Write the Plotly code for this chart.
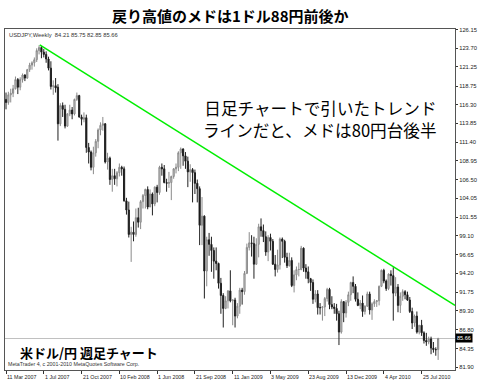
import pandas as pd
import plotly.graph_objects as go

# Weekly USD/JPY bars, week of 11 Mar 2007 .. week of 12 Sep 2010
start_week = "2007-03-11"
opens = [117.0,116.6,117.6,117.8,118.4,119.6,118.6,119.6,120.2,119.8,120.9,121.5,121.8,122.2,123.4,123.8,123.2,122.9,122.3,121.1,
         118.7,118.8,118.6,113.8,116.2,115.7,113.5,115.1,115.6,115.1,117.0,117.5,114.7,114.4,114.6,110.7,110.1,108.1,110.0,111.5,
         113.0,113.6,113.8,108.8,109.3,106.5,107.0,106.6,107.4,108.1,107.9,103.7,102.5,99.3,99.6,99.3,101.5,100.9,103.6,104.4,
         105.2,102.9,104.6,103.3,105.5,104.8,108.1,107.9,106.1,106.0,106.1,106.9,107.9,108.1,110.0,110.5,109.6,108.9,107.5,107.8,
         107.4,106.0,105.3,100.5,101.7,94.5,98.6,98.0,97.2,95.8,95.5,92.9,91.3,89.6,90.6,91.9,90.6,90.7,88.6,89.9,
         92.0,91.8,94.2,97.6,98.2,98.1,95.4,98.0,100.3,99.8,99.0,97.0,98.9,98.4,95.4,94.7,95.3,98.7,98.4,96.3,
         95.2,95.9,92.6,94.0,94.7,94.7,97.5,94.9,94.4,93.5,93.0,90.8,91.5,89.7,89.7,89.8,90.9,92.1,90.1,89.8,
         89.6,88.9,86.5,90.5,89.0,90.4,91.4,93.0,92.5,90.8,90.0,90.3,89.2,89.9,91.5,89.4,90.2,90.5,90.6,92.5,
         94.6,93.2,92.2,94.1,93.9,91.6,92.4,90.0,91.2,91.8,91.4,90.7,89.2,87.7,88.6,86.5,87.4,86.4,85.4,85.2,
         85.6,84.4,84.2,84.21]
highs = [117.9,118.0,118.4,118.9,120.0,119.8,119.9,120.4,120.3,121.0,121.8,122.0,122.5,123.7,124.1,124.0,123.6,123.3,122.6,122.0,
         119.5,119.8,119.0,116.5,116.6,116.3,115.2,116.3,116.0,117.1,117.9,117.6,115.0,115.3,115.0,111.3,110.3,110.8,111.8,113.2,
         114.0,114.7,113.9,110.0,109.5,107.9,107.9,107.6,108.6,108.3,108.2,104.1,103.6,100.3,101.0,102.7,102.8,103.8,104.6,105.3,
         105.6,105.2,104.8,105.6,105.8,108.3,108.6,108.4,106.6,107.5,107.0,108.0,108.6,110.2,110.7,110.6,110.1,109.5,108.5,108.0,
         107.8,106.5,105.6,104.2,101.8,99.0,99.5,99.0,97.6,97.6,95.6,93.6,91.6,91.2,92.0,94.6,90.8,91.0,90.3,92.3,
         92.3,94.5,98.1,99.6,99.2,99.0,98.8,100.7,101.4,100.6,99.7,99.2,99.4,98.7,96.6,97.3,98.9,98.9,98.6,96.9,
         96.9,96.3,94.6,95.1,95.6,97.8,97.6,95.4,95.1,93.6,93.4,92.0,92.0,90.3,89.9,91.1,92.3,92.3,91.2,90.3,
         90.2,89.3,90.8,90.5,90.7,91.8,93.1,93.8,92.8,91.7,90.7,91.3,90.0,91.8,91.8,90.4,90.8,90.7,92.6,94.7,
         94.8,93.4,94.2,94.6,95.0,93.7,92.8,91.7,92.1,92.0,91.8,91.1,89.7,88.8,89.2,87.4,88.1,86.6,86.4,85.9,
         85.9,85.2,84.5,85.75]
lows = [115.7,116.3,116.6,117.3,118.3,117.7,118.2,119.2,119.4,119.7,120.6,120.9,121.3,121.9,122.9,122.4,122.5,121.8,120.8,118.3,
        117.6,117.9,111.6,113.5,114.7,113.2,113.4,114.8,114.4,114.9,116.8,114.6,113.6,114.0,110.0,108.6,107.7,107.2,109.5,110.6,
        112.3,112.9,108.6,107.8,105.8,104.9,105.8,105.6,106.9,107.0,103.6,101.9,98.9,95.7,98.4,99.0,100.2,100.0,102.7,102.7,
        102.6,102.9,101.8,103.0,103.5,104.5,107.0,106.0,104.9,105.4,103.8,106.6,107.3,107.6,107.9,108.3,107.9,105.5,106.2,103.5,
        104.6,103.5,97.9,97.9,90.9,92.5,96.5,94.4,93.5,94.6,92.2,88.9,87.1,89.5,89.6,90.4,87.4,87.1,88.3,88.9,
        90.1,91.4,94.1,97.2,96.4,93.5,95.3,96.3,99.0,98.3,96.5,95.8,97.2,95.3,93.8,94.3,94.7,96.2,95.6,94.9,
        95.1,92.4,91.7,93.3,93.8,94.6,94.4,93.5,92.9,91.9,90.2,90.4,88.8,88.8,88.0,88.6,90.5,89.5,89.5,88.9,
        88.0,84.8,86.3,87.8,88.4,89.9,90.6,91.6,90.5,89.9,89.5,88.5,88.8,89.8,88.8,88.1,89.8,89.8,90.0,92.4,
        92.9,91.9,92.0,92.6,88.0,91.2,89.1,89.0,90.6,90.8,90.6,89.0,86.9,87.2,86.3,86.2,86.0,85.0,84.7,84.9,
        83.6,83.8,83.4,82.85]
closes = [116.6,117.6,117.8,118.4,119.6,118.6,119.6,120.2,119.8,120.9,121.5,121.8,122.2,123.4,123.8,123.2,122.9,122.3,121.1,118.7,
          118.8,118.5,113.8,116.2,115.7,113.5,115.1,115.6,115.1,117.0,117.5,114.7,114.4,114.6,110.7,110.1,108.1,110.0,111.5,113.0,
          113.6,113.8,108.8,109.3,106.5,107.0,106.6,107.4,108.1,107.9,103.7,102.5,99.3,99.6,99.3,101.5,100.9,103.6,104.4,105.2,
          102.9,104.6,103.3,105.5,104.8,108.1,107.9,106.1,106.0,106.1,106.9,107.9,108.1,110.0,110.5,109.6,108.9,107.5,107.8,107.4,
          106.0,105.3,100.5,101.7,94.5,98.6,98.0,97.2,95.8,95.5,92.9,91.3,89.6,90.6,91.9,90.6,90.7,88.6,89.9,92.0,
          91.8,94.2,97.6,98.2,98.1,95.4,98.0,100.3,99.8,99.0,97.0,98.9,98.4,95.4,94.7,95.3,98.7,98.4,96.3,95.2,
          95.9,92.6,94.0,94.7,94.7,97.5,94.9,94.4,93.5,93.0,90.8,91.5,89.7,89.7,89.8,90.9,92.1,90.1,89.8,89.6,
          88.9,86.5,90.5,89.0,90.4,91.4,93.0,92.5,90.8,90.0,90.3,89.2,89.9,91.5,89.4,90.2,90.5,90.6,92.5,94.6,
          93.2,92.2,94.1,93.9,91.6,92.4,90.0,91.2,91.8,91.4,90.7,89.2,87.7,88.6,86.5,87.4,86.4,85.4,85.2,85.6,
          84.4,84.2,84.2,85.66]

date_ticks = ["2007-03-11","2007-07-01","2007-10-21","2008-02-10","2008-06-01","2008-09-21",
              "2009-01-11","2009-05-03","2009-08-23","2009-12-13","2010-04-04","2010-07-25"]
date_labels = ["11 Mar 2007","1 Jul 2007","21 Oct 2007","10 Feb 2008","1 Jun 2008","21 Sep 2008",
               "11 Jan 2009","3 May 2009","23 Aug 2009","13 Dec 2009","4 Apr 2010","25 Jul 2010"]
price_ticks = [126.15,123.70,121.25,118.75,116.30,113.85,111.40,108.95,106.50,104.05,101.55,
               99.10,96.65,94.20,91.75,89.30,86.80,84.35,81.90]
price_labels = [f"{v:.2f}" for v in price_ticks]

trend_dates = ["2007-06-19", "2010-11-01"]
trend_prices = [124.14, 90.0]
last_price = 85.66

dates = pd.date_range(start_week, periods=len(closes), freq="7D")

fig = go.Figure()
fig.add_trace(go.Candlestick(
    x=dates, open=opens, high=highs, low=lows, close=closes,
    increasing=dict(line=dict(color="#8a8a8a", width=1), fillcolor="#d0d0d0"),
    decreasing=dict(line=dict(color="#202020", width=1), fillcolor="#000000"),
    whiskerwidth=0, showlegend=False, hoverinfo="skip"))
fig.add_trace(go.Scatter(x=trend_dates, y=trend_prices, mode="lines",
                         line=dict(color="#00ee00", width=1.5), showlegend=False, hoverinfo="skip"))

fig.add_shape(type="line", xref="paper", yref="y", x0=0, x1=1, y0=last_price, y1=last_price,
              line=dict(color="#c0c0c0", width=1), layer="below")

small = "Liberation Sans"
annotations = []
for d, t in zip(date_ticks, date_labels):
    annotations.append(dict(x=d, xref="x", y=0, yref="paper", text=t, showarrow=False,
                            xanchor="left", yanchor="top", yshift=-2, xshift=-1,
                            font=dict(family=small, size=5.3, color="#222")))
annotations.append(dict(x=1, xref="paper", y=last_price, yref="y", text=f"{last_price:.2f}",
                        showarrow=False, xanchor="left", yanchor="middle", xshift=0,
                        bgcolor="#000000", borderpad=1,
                        font=dict(family=small, size=5.5, color="#ffffff")))
annotations.append(dict(x=0.004, xref="paper", y=1, yref="paper", yanchor="top", xanchor="left",
                        text="USDJPY,Weekly  84.21 85.75 82.85 85.66", showarrow=False, yshift=-1,
                        font=dict(family=small, size=5.8, color="#333")))
annotations.append(dict(x=0.028, xref="paper", y=0.048, yref="paper", xanchor="left", yanchor="middle",
                        text="<b>米ドル/円 週足チャート</b>", showarrow=False, yshift=1,
                        font=dict(family="Noto Sans CJK JP", size=13, color="#000")))
annotations.append(dict(x=0.002, xref="paper", y=0, yref="paper", yanchor="bottom", xanchor="left",
                        text="MetaTrader 4, c 2001-2010 MetaQuotes Software Corp.", showarrow=False, yshift=1,
                        font=dict(family=small, size=5.3, color="#333")))
annotations.append(dict(x=0.962, xref="paper", y=0.739, yref="paper", xanchor="right", yanchor="middle",
                        text="日足チャートで引いたトレンド<br>ラインだと、メドは80円台後半", showarrow=False,
                        align="right", yshift=-1,
                        font=dict(family="Noto Sans CJK JP", size=16.6, color="#000")))
annotations.append(dict(x=0.5, xref="paper", y=1, yref="paper", yshift=14, xanchor="center", yanchor="middle",
                        text="<b>戻り高値のメドは1ドル88円前後か</b>", showarrow=False,
                        font=dict(family="Noto Sans CJK JP", size=15, color="#000")))

fig.update_layout(
    width=478, height=390,
    margin=dict(l=5, r=23, t=29, b=20),
    paper_bgcolor="#ffffff", plot_bgcolor="#ffffff",
    annotations=annotations,
    xaxis=dict(range=["2007-03-08", "2010-11-01"], rangeslider=dict(visible=False),
               tickvals=date_ticks, ticktext=[""] * len(date_ticks), ticks="outside", ticklen=3,
               tickcolor="#333", showgrid=False, showline=True, linecolor="#555", linewidth=1,
               mirror=True, zeroline=False),
    yaxis=dict(range=[81.53, 126.23], side="right", tickvals=price_ticks, ticktext=price_labels,
               ticks="outside", ticklen=2, tickcolor="#333", showgrid=False, showline=True,
               linecolor="#555", linewidth=1, mirror=True, zeroline=False, automargin=False,
               tickfont=dict(family=small, size=5.8, color="#222")),
)

fig.write_html("out.html", config={"displayModeBar": False},
               post_script="document.body.style.margin='0';document.body.style.overflow='hidden';")
